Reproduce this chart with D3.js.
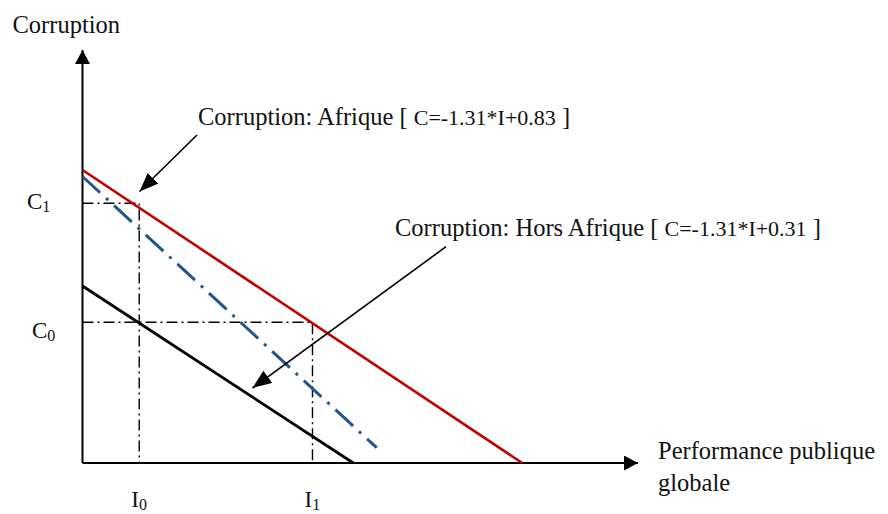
<!DOCTYPE html>
<html>
<head>
<meta charset="utf-8">
<script src="https://cdn.jsdelivr.net/npm/d3@7"></script>
<style>
  html, body { margin: 0; padding: 0; background: #fff; }
  svg { display: block; }
  text { font-family: "Liberation Serif", "Times New Roman", serif; fill: #111; }
</style>
</head>
<body>
<svg id="chart" width="888" height="514"></svg>
<script>
// ---- Data (abstract units: x = performance publique, y = corruption) ----
const axisDomainX = [0, 100];
const axisDomainY = [0, 100];

const afriqueX = [0, 79.17];
const afriqueY = [70.94, 0];

const intermediaireX = [0, 52.96];
const intermediaireY = [69.37, 3.70];

const horsAfriqueX = [0, 48.75];
const horsAfriqueY = [42.86, 0];

const iValues = [10.21, 41.40];      // I0, I1
const iLabels = ["0", "1"];
const cValues = [62.88, 34.07];      // C1, C0
const cLabels = ["1", "0"];

const arrowAfriqueFrom = [20.61, 79.42];
const arrowAfriqueTo   = [10.26, 65.74];
const arrowHorsFrom    = [65.44, 52.37];
const arrowHorsTo      = [30.60, 18.16];

const labelAfrique = ["Corruption: Afrique [ ", "C=-1.31*I+0.83", " ]"];
const labelHors    = ["Corruption: Hors Afrique [ ", "C=-1.31*I+0.31", " ]"];
const yTitle = "Corruption";
const xTitle = ["Performance publique", "globale"];

// ---- Scales ----
const svg = d3.select("#chart");
const x = d3.scaleLinear().domain(axisDomainX).range([82.5, 638]);
const y = d3.scaleLinear().domain(axisDomainY).range([463, 50]);

const defs = svg.append("defs");
function marker(id, len, w) {
  defs.append("marker")
    .attr("id", id)
    .attr("viewBox", `0 0 ${len} ${w}`)
    .attr("refX", len).attr("refY", w / 2)
    .attr("markerWidth", len).attr("markerHeight", w)
    .attr("markerUnits", "userSpaceOnUse")
    .attr("orient", "auto")
    .append("path")
    .attr("d", `M0,0 L${len},${w/2} L0,${w} Z`)
    .attr("fill", "#000");
}
marker("axisHead", 14, 15);
marker("annHead", 19, 15);

const line = d3.line().x(d => x(d[0])).y(d => y(d[1]));

// ---- Guide lines (dash-dot) ----
const guideDash = "11,4,2,4";
iValues.forEach((iv, k) => {
  const cv = cValues[k];
  svg.append("path")
    .attr("d", line([[0, cv], [iv, cv], [iv, 0]]))
    .attr("fill", "none").attr("stroke", "#000")
    .attr("stroke-width", 1.4).attr("stroke-dasharray", guideDash);
});

// ---- Axes ----
svg.append("line")
  .attr("x1", x(0)).attr("y1", y(0))
  .attr("x2", x(0)).attr("y2", y(axisDomainY[1]))
  .attr("stroke", "#000").attr("stroke-width", 2)
  .attr("marker-end", "url(#axisHead)");
svg.append("line")
  .attr("x1", x(0)).attr("y1", y(0))
  .attr("x2", x(axisDomainX[1])).attr("y2", y(0))
  .attr("stroke", "#000").attr("stroke-width", 2)
  .attr("marker-end", "url(#axisHead)");

// ---- Series lines ----
const zip = (a, b) => a.map((v, i) => [v, b[i]]);
svg.append("path")
  .attr("d", line(zip(intermediaireX, intermediaireY)))
  .attr("fill", "none").attr("stroke", "#24548a")
  .attr("stroke-width", 3).attr("stroke-dasharray", "24,8,3,8");
svg.append("path")
  .attr("d", line(zip(afriqueX, afriqueY)))
  .attr("fill", "none").attr("stroke", "#c00000").attr("stroke-width", 2.6);
svg.append("path")
  .attr("d", line(zip(horsAfriqueX, horsAfriqueY)))
  .attr("fill", "none").attr("stroke", "#000").attr("stroke-width", 2.8);

// ---- Annotation arrows ----
[[arrowAfriqueFrom, arrowAfriqueTo], [arrowHorsFrom, arrowHorsTo]].forEach(([a, b]) => {
  svg.append("line")
    .attr("x1", x(a[0])).attr("y1", y(a[1]))
    .attr("x2", x(b[0])).attr("y2", y(b[1]))
    .attr("stroke", "#000").attr("stroke-width", 1.6)
    .attr("marker-end", "url(#annHead)");
});

// ---- Texts ----
function eqLabel(parts, px, py) {
  const t = svg.append("text").attr("x", px).attr("y", py).attr("font-size", 24.5);
  t.append("tspan").text(parts[0]);
  t.append("tspan").attr("font-size", 22).text(parts[1]);
  t.append("tspan").text(parts[2]);
}
eqLabel(labelAfrique, 198, 125);
eqLabel(labelHors, 395, 236);

svg.append("text").attr("x", 12.5).attr("y", 33).attr("font-size", 24.5).text(yTitle);
svg.append("text").attr("x", 658).attr("y", 459).attr("font-size", 24.5).text(xTitle[0]);
svg.append("text").attr("x", 658).attr("y", 491).attr("font-size", 24.5).text(xTitle[1]);

function subLabel(main, sub, px, py) {
  const t = svg.append("text").attr("x", px).attr("y", py).attr("font-size", 23);
  t.append("tspan").text(main);
  t.append("tspan").attr("font-size", 16).attr("dy", 3).text(sub);
}
// C labels on the left of the y axis
cValues.forEach((cv, k) => {
  subLabel("C", cLabels[k], k === 0 ? 27 : 32, y(cv) + (k === 0 ? 5.5 : 15.5));
});
// I labels below the x axis
iValues.forEach((iv, k) => {
  subLabel("I", iLabels[k], x(iv) - 8, 507);
});
</script>
</body>
</html>
